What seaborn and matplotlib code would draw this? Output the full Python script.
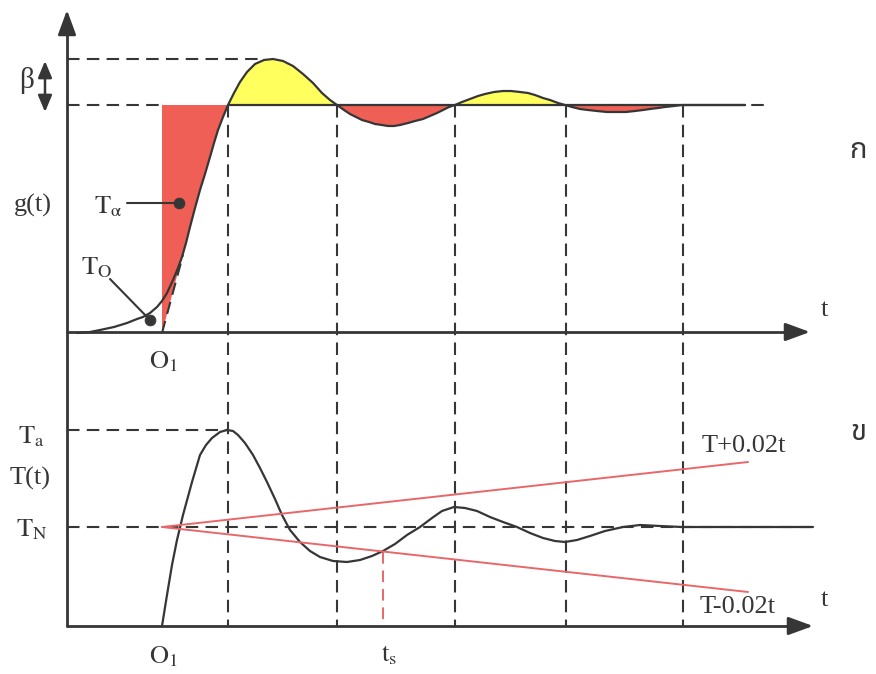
import numpy as np
import seaborn as sns
import matplotlib.pyplot as plt

# Everything is drawn in picture units: x to the right, y downwards
# (one unit = one pixel of the 876x674 output).

# upper panel: step response g(t)
g_t = [77, 90, 100, 114, 127, 137, 143, 150, 157, 162, 167, 173, 178, 182,
       186, 190, 195, 200, 205, 210, 214, 218, 223, 228,
       234, 240, 247, 255, 264, 273, 283, 293, 303, 313, 322, 330, 337,
       344, 350, 356, 362, 369, 375, 382, 388, 394, 400, 408, 415, 423,
       430, 437, 443, 449, 455,
       462, 470, 478, 485, 494, 503, 511, 520, 528, 535, 543, 550, 558, 565,
       572, 580, 588, 597, 607, 617, 626, 635, 643, 650, 658, 665, 674, 682,
       745]
g_y = [333, 332, 330, 327, 323, 319, 317, 313, 307, 301, 293, 280, 268, 257,
       243, 227, 208, 190, 174, 157, 143, 130, 117, 105,
       93, 82, 72, 64, 60, 59, 61, 66, 74, 83, 93, 100, 105,
       110, 114, 117, 120, 122, 124, 125, 126, 126, 125, 123, 121, 119,
       116, 113, 110, 107, 105,
       102, 99, 96, 94, 92, 91, 91, 92, 93, 95, 98, 100, 103, 105,
       107, 109, 110, 111, 112, 112, 112, 111, 110, 109, 108, 107, 106, 105,
       105]
g_level = 105          # steady value
g_peak = 59            # overshoot value (beta)
g_origin = 162         # O1, foot of the inflection tangent
tangent_t = [162, 183]
tangent_y = [333, 255]

# lower panel: temperature response T(t)
T_t = [162, 167, 172, 177, 183, 192, 200, 206, 212, 220, 227, 233, 238,
       245, 253, 260, 267, 275, 282, 290, 300, 310, 320, 333, 347, 360,
       372, 383, 395, 407, 420, 432, 442, 454, 465, 477, 490, 503, 517,
       530, 543, 555, 565, 577, 590, 605, 623, 640, 660, 682, 813]
T_y = [626, 595, 565, 540, 515, 482, 455, 445, 438, 432, 430, 431, 435,
       443, 455, 468, 482, 499, 515, 530, 542, 551, 557, 561, 562, 560,
       556, 551, 544, 535, 527, 518, 511, 507, 508, 511, 517, 522, 527,
       533, 538, 541, 542, 540, 536, 531, 527, 525, 526, 527, 527]
T_a = 430
T_N = 527
band_t = [162, 748]
band_hi = [527, 462]   # T+0.02t
band_lo = [527, 592]   # T-0.02t
t_s = 383

# vertical guides at the zero crossings
cross_t = [228, 337, 455, 566, 683]

# axes frame
x0, y_top, y_mid, y_bot = 67, 10, 332, 626
t_end_top, t_end_bot = 810, 813

INK = '#363636'
RED = '#f05f55'
YELLOW = '#ffff5e'
LINE_RED = '#e8676a'

sns.set_theme(style='white')
plt.rcParams['font.family'] = ['Liberation Serif', 'DejaVu Serif']
plt.rcParams['mathtext.fontset'] = 'stix'

fig = plt.figure(figsize=(8.76, 6.74), dpi=100)
ax = fig.add_axes([0, 0, 1, 1])
ax.set_xlim(0, 876)
ax.set_ylim(674, 0)
ax.axis('off')

gx = np.array(g_t, dtype=float)
gy = np.array(g_y, dtype=float)

# red area before the first crossing (between O1 tangent and curve)
rise = (gx >= tangent_t[1] - 1) & (gx <= cross_t[0])
poly_x = [g_origin, cross_t[0]] + list(gx[rise][::-1]) + [tangent_t[0]]
poly_y = [g_level, g_level] + list(gy[rise][::-1]) + [tangent_y[0]]
ax.fill(poly_x, poly_y, color=RED, lw=0, zorder=1)

# yellow / red lobes of the oscillation
after = gx >= cross_t[0]
ax.fill_between(gx[after], gy[after], g_level, where=gy[after] <= g_level,
                color=YELLOW, lw=0, interpolate=True, zorder=1)
ax.fill_between(gx[after], gy[after], g_level, where=gy[after] >= g_level,
                color=RED, lw=0, interpolate=True, zorder=1)

dash = dict(color=INK, lw=1.5, ls=(0, (6, 3.5)), zorder=2)

# reference lines
ax.plot([x0, g_origin], [g_level, g_level], **dash)
ax.plot([cross_t[0], 745], [g_level, g_level], color=INK, lw=1.6, zorder=2)
ax.plot([752, 763], [g_level, g_level], color=INK, lw=1.5, zorder=2)
ax.plot([x0, 265], [g_peak, g_peak], **dash)
ax.plot([x0, cross_t[0]], [T_a, T_a], **dash)
ax.plot([x0, 815], [T_N, T_N], **dash)
for xc in cross_t:
    ax.plot([xc, xc], [g_level, y_bot], **dash)
ax.plot(tangent_t, tangent_y, **dash)

# curves
sns.lineplot(x=g_t, y=g_y, ax=ax, color=INK, lw=1.6, sort=False,
             estimator=None, zorder=3)
sns.lineplot(x=T_t, y=T_y, ax=ax, color=INK, lw=1.6, sort=False,
             estimator=None, zorder=3)

# +-0.02t band and settling time
sns.lineplot(x=band_t, y=band_hi, ax=ax, color=LINE_RED, lw=1.4,
             estimator=None, zorder=3)
sns.lineplot(x=band_t, y=band_lo, ax=ax, color=LINE_RED, lw=1.4,
             estimator=None, zorder=3)
ts_y = band_lo[0] + (band_lo[1] - band_lo[0]) * (t_s - band_t[0]) / (band_t[1] - band_t[0])
ax.plot([t_s, t_s], [ts_y, y_bot], color=LINE_RED, lw=1.4,
        ls=(0, (6, 3.5)), zorder=3)

# axes with arrow heads
head = dict(arrowstyle='-|>,head_length=1.5,head_width=0.55', color=INK,
            lw=2, mutation_scale=10, shrinkA=0, shrinkB=0)
ax.plot([x0, x0], [y_bot, y_top + 15], color=INK, lw=2, zorder=4)
ax.annotate('', xy=(x0, y_top), xytext=(x0, y_top + 25), arrowprops=head)
ax.plot([x0, t_end_top - 15], [y_mid, y_mid], color=INK, lw=2, zorder=4)
ax.annotate('', xy=(t_end_top, y_mid), xytext=(t_end_top - 25, y_mid),
            arrowprops=head)
ax.plot([x0, t_end_bot - 15], [y_bot, y_bot], color=INK, lw=2, zorder=4)
ax.annotate('', xy=(t_end_bot, y_bot), xytext=(t_end_bot - 25, y_bot),
            arrowprops=head)

# beta marker
ax.annotate('', xy=(45, 61), xytext=(45, 112),
            arrowprops=dict(arrowstyle='<|-|>,head_length=1.0,head_width=0.42',
                            color=INK, lw=1.8, mutation_scale=10,
                            shrinkA=0, shrinkB=0))

# pointers to T_alpha and T_O
ax.plot([127, 179], [203, 203], color=INK, lw=1.5, zorder=4)
ax.plot([110, 150], [279, 320], color=INK, lw=1.5, zorder=4)
sns.scatterplot(x=[179, 150], y=[203, 320], ax=ax, color=INK, s=60,
                edgecolor=INK, zorder=5)

fs = 19
txt = dict(color=INK, fontsize=fs, ha='center', va='center')
ax.text(27, 81, 'β', color=INK, fontsize=21, ha='center', va='center')
ax.text(33, 205, 'g(t)', **txt)
ax.text(108, 207, r'$\mathrm{T}_{\mathrm{α}}$', **txt)
ax.text(97, 268, r'$\mathrm{T}_{\mathrm{O}}$', **txt)
ax.text(163, 362, r'$\mathrm{O}_1$', **txt)
ax.text(824, 310, 't', **txt)
ax.text(31, 437, r'$\mathrm{T}_{\mathrm{a}}$', **txt)
ax.text(30, 478, 'T(t)', **txt)
ax.text(32, 530, r'$\mathrm{T}_{\mathrm{N}}$', **txt)
ax.text(163, 657, r'$\mathrm{O}_1$', **txt)
ax.text(389, 655, r'$\mathrm{t}_{\mathrm{s}}$', **txt)
ax.text(744, 446, 'T+0.02t', **txt)
ax.text(738, 607, 'T-0.02t', **txt)
ax.text(824, 600, 't', **txt)

thai = ['Noto Sans Thai', 'Loma', 'Garuda', 'Tlwg Typo', 'DejaVu Sans']
ax.text(858, 150, 'ก', color=INK, fontsize=21, ha='center', va='center',
        family=thai, weight='bold')
ax.text(858, 433, 'ข', color=INK, fontsize=21, ha='center', va='center',
        family=thai, weight='bold')

fig.savefig('out.png', dpi=100)
